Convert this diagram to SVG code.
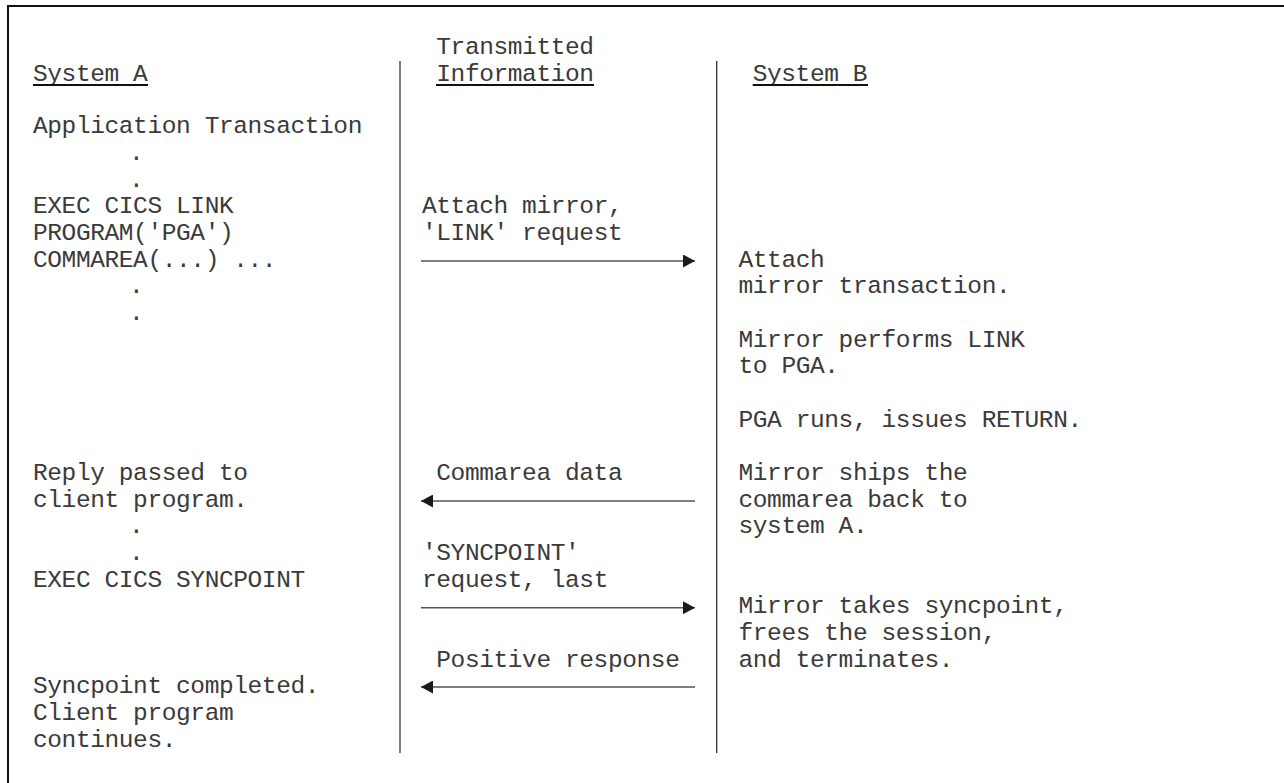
<svg xmlns="http://www.w3.org/2000/svg" width="1284" height="783" viewBox="0 0 1284 783">
<style>
  text { font-family: "Liberation Mono", "DejaVu Sans Mono", monospace; font-size: 24.5px; letter-spacing: -0.4px; fill: #3a3a3a; }
  .ul { stroke: #111; stroke-width: 2; }
  .frame { stroke: #111; stroke-width: 2; fill: none; }
  .lane { stroke: #333; stroke-width: 1.3; }
  .msg { stroke: #555; stroke-width: 1.4; fill: none; }
</style>
<defs>
  <marker id="ah" markerWidth="12" markerHeight="13" refX="12" refY="6.5" orient="auto" markerUnits="userSpaceOnUse">
    <path d="M0,0 L12,6.5 L0,13 Z" fill="#1a1a1a"/>
  </marker>
</defs>
<rect width="1284" height="783" fill="#fff"/>
<g id="frame">
  <path class="frame" d="M8,783 L8,6 L1284,6"/>
</g>
<g id="lanes">
  <line class="lane" x1="400" y1="61" x2="400" y2="753"/>
  <line class="lane" x1="716.7" y1="61" x2="716.7" y2="753"/>
</g>
<g id="system-a">
  <text x="33" y="81">System A</text>
  <line class="ul" x1="33" y1="85" x2="148" y2="85"/>
  <text x="33" y="133.3">Application Transaction</text>
  <text x="129" y="160">.</text>
  <text x="129" y="186.7">.</text>
  <text x="33" y="213.3">EXEC CICS LINK</text>
  <text x="33" y="240">PROGRAM('PGA')</text>
  <text x="33" y="266.7">COMMAREA(...) ...</text>
  <text x="129" y="293.3">.</text>
  <text x="129" y="320">.</text>
  <text x="33" y="480">Reply passed to</text>
  <text x="33" y="506.7">client program.</text>
  <text x="129" y="533.3">.</text>
  <text x="129" y="560">.</text>
  <text x="33" y="586.7">EXEC CICS SYNCPOINT</text>
  <text x="33" y="693.3">Syncpoint completed.</text>
  <text x="33" y="720">Client program</text>
  <text x="33" y="746.7">continues.</text>
</g>
<g id="transmitted">
  <text x="436.3" y="54">Transmitted</text>
  <text x="436.3" y="81">Information</text>
  <line class="ul" x1="436" y1="85" x2="594" y2="85"/>
  <text x="422" y="213.3">Attach mirror,</text>
  <text x="422" y="240">'LINK' request</text>
  <text x="436.3" y="480">Commarea data</text>
  <text x="422" y="560">'SYNCPOINT'</text>
  <text x="422" y="586.7">request, last</text>
  <text x="436.3" y="666.7">Positive response</text>
</g>
<g id="system-b">
  <text x="752.7" y="81">System B</text>
  <line class="ul" x1="752.7" y1="85" x2="868" y2="85"/>
  <text x="738.5" y="266.7">Attach</text>
  <text x="738.5" y="293.3">mirror transaction.</text>
  <text x="738.5" y="346.7">Mirror performs LINK</text>
  <text x="738.5" y="373.3">to PGA.</text>
  <text x="738.5" y="426.7">PGA runs, issues RETURN.</text>
  <text x="738.5" y="480">Mirror ships the</text>
  <text x="738.5" y="506.7">commarea back to</text>
  <text x="738.5" y="533.3">system A.</text>
  <text x="738.5" y="613.3">Mirror takes syncpoint,</text>
  <text x="738.5" y="640">frees the session,</text>
  <text x="738.5" y="666.7">and terminates.</text>
</g>
<g id="connectors">
  <line class="msg" x1="421" y1="261" x2="695" y2="261" marker-end="url(#ah)"/>
  <line class="msg" x1="695" y1="501" x2="421" y2="501" marker-end="url(#ah)"/>
  <line class="msg" x1="421" y1="607.7" x2="695" y2="607.7" marker-end="url(#ah)"/>
  <line class="msg" x1="695" y1="687" x2="421" y2="687" marker-end="url(#ah)"/>
</g>
</svg>
